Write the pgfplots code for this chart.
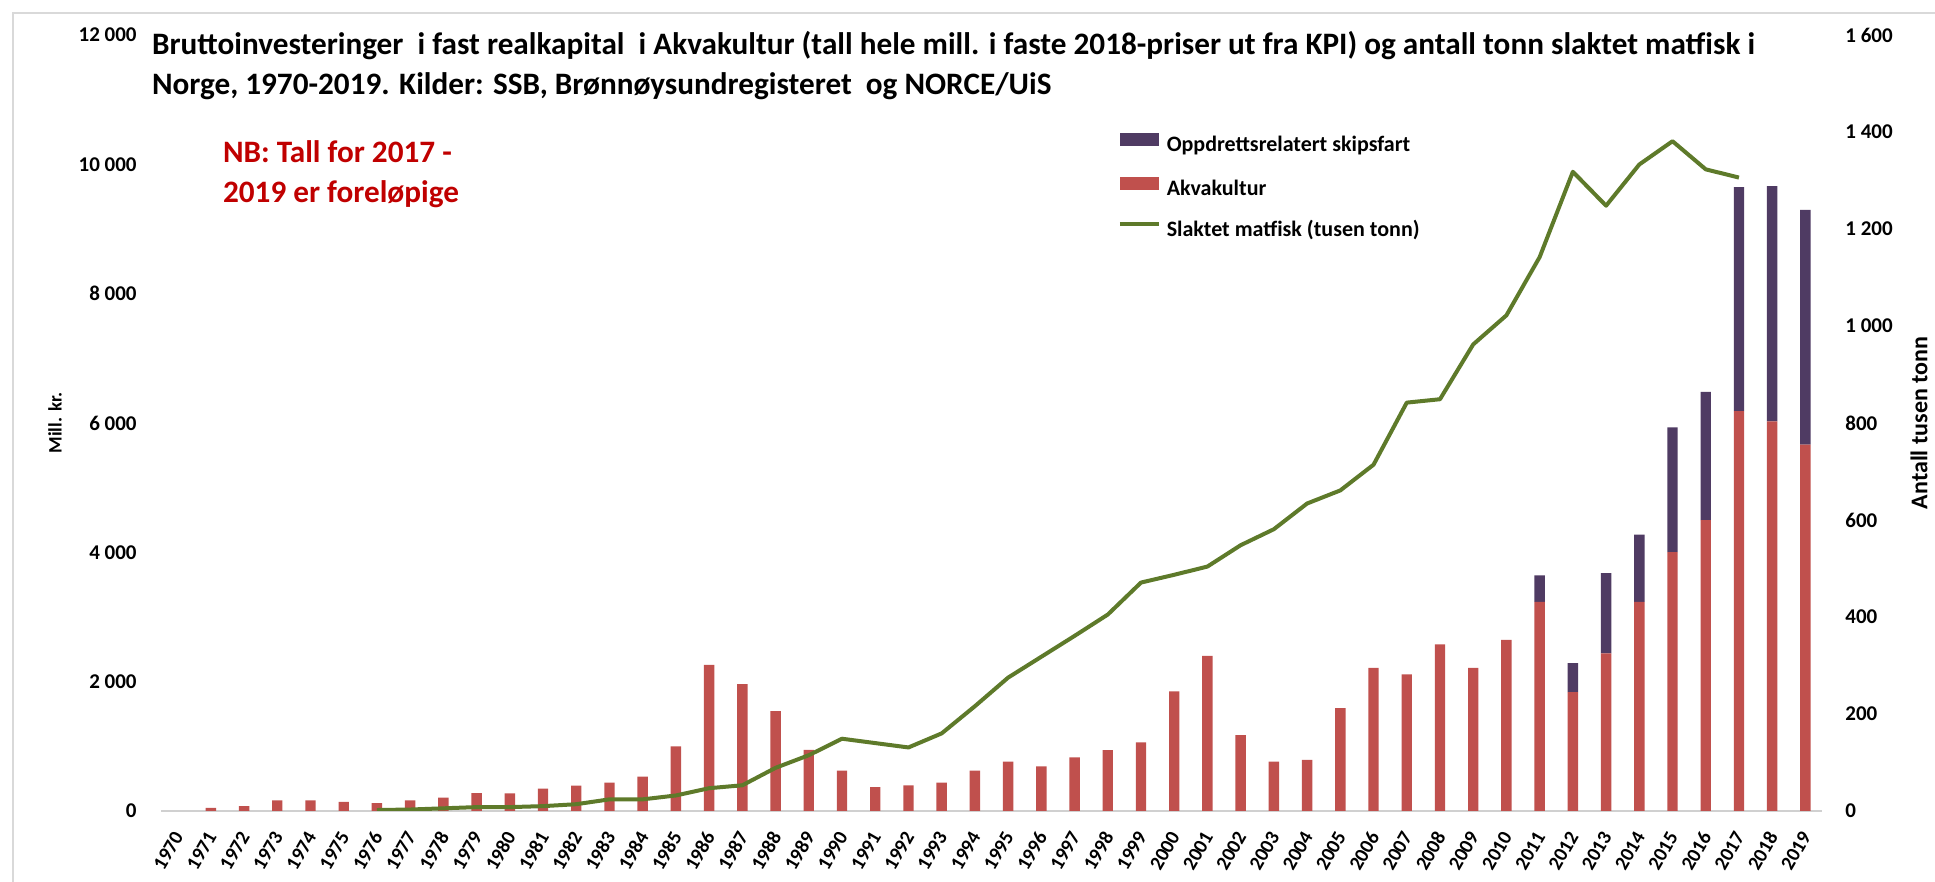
\documentclass[border=0pt]{standalone}
\usepackage{fontspec}
\setmainfont{Carlito}
\usepackage{pgfplots}
\pgfplotsset{compat=1.18}
\usepackage{pgfplotstable}

\definecolor{skip}{HTML}{4F3B63}
\definecolor{akva}{HTML}{C0504D}
\definecolor{fisk}{HTML}{5E7A2A}
\definecolor{nbred}{HTML}{C00000}
\definecolor{framegray}{HTML}{D9D9D9}
\definecolor{axisgray}{HTML}{D0D0D0}

\pgfplotsset{
  mybarlegend/.style={legend image code/.code={\fill[##1] (0pt,0.4pt) rectangle (19.5pt,6.9pt);}},
  mylinelegend/.style={legend image code/.code={\draw[##1] (0pt,3.7pt) -- (19.5pt,3.7pt);}},
}

\pgfplotstableread{
year akva skip fisk
1970 0 0 nan
1971 50 0 nan
1972 75 0 nan
1973 165 0 nan
1974 165 0 nan
1975 140 0 nan
1976 120 0 2
1977 165 0 3
1978 205 0 5.5
1979 278 0 8
1980 273 0 8
1981 345 0 10
1982 392 0 14
1983 438 0 24
1984 531 0 24
1985 1000 0 32
1986 2260 0 47
1987 1960 0 53
1988 1545 0 89
1989 945 0 115
1990 624 0 149
1991 371 0 140
1992 397 0 131
1993 438 0 160
1994 624 0 216
1995 763 0 275
1996 691 0 318
1997 830 0 361
1998 943 0 405
1999 1062 0 471
2000 1850 0 487
2001 2400 0 504
2002 1175 0 548
2003 763 0 581
2004 790 0 634
2005 1590 0 661
2006 2215 0 714
2007 2114 0 842
2008 2576 0 849
2009 2215 0 962
2010 2648 0 1022
2011 3233 411 1142
2012 1840 448 1318
2013 2439 1241 1248
2014 3233 1039 1333
2015 4005 1927 1381
2016 4496 1984 1323
2017 6185 3464 1306
2018 6026 3637 nan
2019 5665 3630 nan
}\datatable

\begin{document}
\begin{tikzpicture}[font=\bfseries]
\path[use as bounding box] (0,0) rectangle (967.5pt,441pt);
\draw[framegray, line width=0.75pt] (6.5pt,0pt) -- (6.5pt,434.5pt) -- (967.5pt,434.5pt);

\begin{axis}[
  at={(80.5pt,35.5pt)}, anchor=south west,
  scale only axis, width=830.5pt, height=388pt,
  xmin=1969.5, xmax=2019.5, ymin=0, ymax=12000,
  ybar stacked, bar width=5.2pt,
  axis x line*=bottom, axis y line*=left,
  x axis line style={axisgray, line width=0.75pt, -},
  y axis line style={draw=none},
  major tick length=0pt, tick style={draw=none},
  xtick={1970,...,2019},
  xticklabel={\pgfmathparse{int(round(\tick))}\pgfmathresult},
  xticklabel style={anchor=east, inner sep=0pt, yshift=-11pt, xshift=0.5pt, rotate=60,
    font=\bfseries\fontsize{10}{12}\selectfont},
  ytick={0,2000,...,12000},
  scaled y ticks=false,
  yticklabel={\pgfmathprintnumber[assume math mode=true, 1000 sep={\ }]{\tick}},
  yticklabel style={inner sep=0pt, xshift=-12pt, font=\bfseries\fontsize{10.5}{12}\selectfont},
  ylabel={Mill. kr.},
  ylabel style={at={(axis description cs:-0.0638,0.5)}, anchor=center, font=\bfseries\fontsize{9.5}{11}\selectfont},
]
\addplot[fill=akva, draw=none] table[x=year, y=akva]{\datatable};
\addplot[fill=skip, draw=none] table[x=year, y=skip]{\datatable};
\end{axis}

\begin{axis}[
  at={(80.5pt,35.5pt)}, anchor=south west,
  scale only axis, width=830.5pt, height=388pt,
  xmin=1969.5, xmax=2019.5, ymin=0, ymax=1600,
  axis y line*=right, axis x line=none,
  y axis line style={draw=none},
  major tick length=0pt, tick style={draw=none},
  ytick={0,200,...,1600},
  scaled y ticks=false,
  yticklabel={\pgfmathprintnumber[assume math mode=true, 1000 sep={\ }]{\tick}},
  yticklabel style={inner sep=0pt, xshift=11.5pt, font=\bfseries\fontsize{10.5}{12}\selectfont},
  ylabel={Antall tusen tonn},
  ylabel style={at={(axis description cs:1.0584,0.5)}, anchor=center, font=\bfseries\fontsize{12}{13}\selectfont},
  legend cell align=left,
  legend style={at={(axis description cs:0.576,0.804)}, anchor=west, draw=none, fill=none,
    inner sep=0pt, outer sep=0pt, row sep=10.25pt, column sep=3pt,
    font=\bfseries\fontsize{11}{12}\selectfont,
    nodes={inner sep=0pt, text height=7.5pt, text depth=2.5pt}},
]
\addlegendimage{mybarlegend, fill=skip, draw=none}
\addlegendentry{Oppdrettsrelatert skipsfart}
\addlegendimage{mybarlegend, fill=akva, draw=none}
\addlegendentry{Akvakultur}
\addplot[fisk, line width=2pt, line join=round, mylinelegend] table[x=year, y=fisk]{\datatable};
\addlegendentry{Slaktet matfisk (tusen tonn)}
\end{axis}

\node[anchor=base west, font=\bfseries\fontsize{15.6}{18}\selectfont] at (72.5pt,413.5pt)
  {Bruttoinvesteringer\ \ i fast realkapital\ \ i Akvakultur (tall hele mill. i faste 2018-priser ut fra KPI) og antall tonn slaktet matfisk i};
\node[anchor=base west, font=\bfseries\fontsize{15.6}{18}\selectfont] at (72.5pt,393.5pt)
  {Norge, 1970-2019. Kilder: SSB, Brønnøysundregisteret\ \ og NORCE/UiS};
\node[anchor=base west, text=nbred, font=\bfseries\fontsize{15.6}{18}\selectfont] at (108pt,359.5pt)
  {NB: Tall for 2017 -};
\node[anchor=base west, text=nbred, font=\bfseries\fontsize{15.6}{18}\selectfont] at (108pt,339.5pt)
  {2019 er foreløpige};
\end{tikzpicture}
\end{document}
